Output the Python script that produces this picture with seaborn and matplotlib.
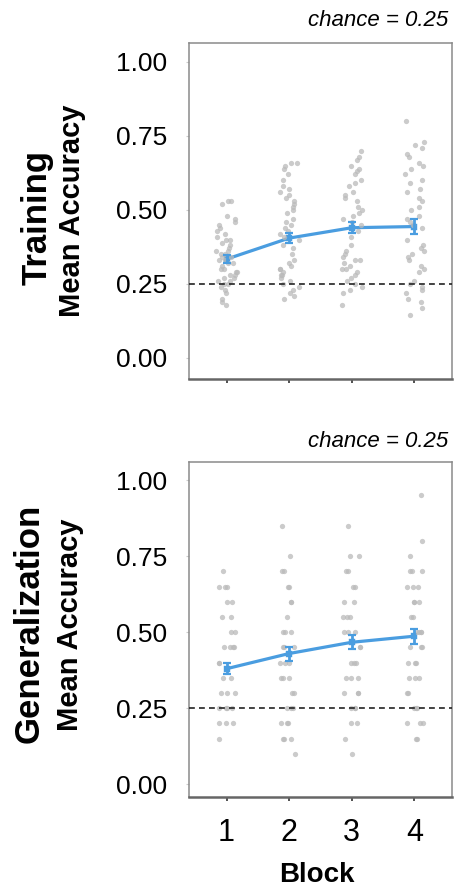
import numpy as np
import pandas as pd
import matplotlib
matplotlib.use("Agg")
import matplotlib.pyplot as plt
import seaborn as sns

# blocs et valeurs
blocks = ["1", "2", "3", "4"]

train_b1 = [0.53, 0.53, 0.52, 0.48, 0.47, 0.46, 0.45, 0.44, 0.43, 0.42, 0.41, 0.40, 0.40, 0.39,
            0.38, 0.37, 0.36, 0.36, 0.35, 0.35, 0.34, 0.34, 0.33, 0.33, 0.32, 0.32, 0.31, 0.30,
            0.30, 0.29, 0.29, 0.28, 0.28, 0.27, 0.27, 0.26, 0.26, 0.25, 0.25, 0.24, 0.23, 0.22,
            0.20, 0.19, 0.18]
train_b2 = [0.66, 0.66, 0.65, 0.64, 0.62, 0.60, 0.58, 0.57, 0.56, 0.55, 0.54, 0.53, 0.52, 0.51,
            0.50, 0.49, 0.47, 0.46, 0.45, 0.44, 0.43, 0.42, 0.41, 0.40, 0.38, 0.37, 0.35, 0.33,
            0.32, 0.31, 0.30, 0.30, 0.29, 0.28, 0.28, 0.27, 0.26, 0.25, 0.24, 0.23, 0.22, 0.21,
            0.20]
train_b3 = [0.70, 0.68, 0.67, 0.65, 0.64, 0.63, 0.62, 0.60, 0.59, 0.58, 0.56, 0.55, 0.54, 0.53,
            0.51, 0.50, 0.49, 0.48, 0.47, 0.46, 0.45, 0.43, 0.41, 0.38, 0.36, 0.35, 0.34, 0.33,
            0.33, 0.32, 0.31, 0.30, 0.30, 0.29, 0.28, 0.27, 0.26, 0.25, 0.24, 0.23, 0.22, 0.18]
train_b4 = [0.80, 0.73, 0.72, 0.71, 0.69, 0.68, 0.66, 0.65, 0.64, 0.62, 0.60, 0.59, 0.57, 0.56,
            0.54, 0.53, 0.51, 0.50, 0.48, 0.47, 0.46, 0.45, 0.44, 0.40, 0.38, 0.37, 0.36, 0.35,
            0.34, 0.33, 0.31, 0.30, 0.29, 0.26, 0.25, 0.24, 0.23, 0.22, 0.20, 0.19, 0.17, 0.145]

gen_b1 = [0.70, 0.65, 0.65, 0.65, 0.60, 0.60, 0.55, 0.55, 0.50, 0.50, 0.45, 0.45, 0.45, 0.45,
          0.40, 0.40, 0.35, 0.35, 0.30, 0.30, 0.30, 0.25, 0.25, 0.25, 0.25, 0.20, 0.20, 0.20,
          0.15]
gen_b2 = [0.85, 0.75, 0.70, 0.70, 0.65, 0.65, 0.60, 0.60, 0.55, 0.50, 0.50, 0.50, 0.45, 0.45,
          0.45, 0.40, 0.40, 0.40, 0.35, 0.35, 0.35, 0.30, 0.30, 0.25, 0.25, 0.25, 0.20, 0.20,
          0.20, 0.15, 0.15, 0.15, 0.10]
gen_b3 = [0.85, 0.75, 0.75, 0.70, 0.70, 0.65, 0.65, 0.60, 0.60, 0.55, 0.55, 0.55, 0.50, 0.50,
          0.50, 0.45, 0.45, 0.40, 0.40, 0.40, 0.35, 0.35, 0.35, 0.30, 0.30, 0.30, 0.25, 0.25,
          0.25, 0.20, 0.20, 0.15, 0.10]
gen_b4 = [0.95, 0.80, 0.75, 0.70, 0.70, 0.70, 0.65, 0.65, 0.65, 0.60, 0.60, 0.60, 0.55, 0.55,
          0.50, 0.50, 0.50, 0.50, 0.45, 0.45, 0.45, 0.40, 0.40, 0.40, 0.35, 0.35, 0.35, 0.30,
          0.30, 0.25, 0.25, 0.25, 0.20, 0.20, 0.20, 0.15, 0.15]

train_mean = [0.334, 0.405, 0.440, 0.444]
train_se = [0.014, 0.018, 0.019, 0.024]
gen_mean = [0.380, 0.430, 0.467, 0.487]
gen_se = [0.019, 0.023, 0.023, 0.025]

chance = 0.25

sns.set_style("white")
plt.rcParams["font.family"] = ["Liberation Sans", "DejaVu Sans"]
plt.rcParams["text.color"] = "black"
plt.rcParams["xtick.color"] = "black"
plt.rcParams["ytick.color"] = "black"

blue = "#4a9de0"
grey_pts = "#bababa"


def long_df(cols):
    rows = []
    for b, vals in zip(blocks, cols):
        for v in vals:
            rows.append((b, v))
    return pd.DataFrame(rows, columns=["block", "acc"])


np.random.seed(3)  # jitter reproductible
fig = plt.figure(figsize=(4.54, 8.89), dpi=100)
ax1 = fig.add_axes([0.4163, 0.5737, 0.5793, 0.3779])
ax2 = fig.add_axes([0.4163, 0.1035, 0.5793, 0.3768])

panels = [
    (ax1, [train_b1, train_b2, train_b3, train_b4], train_mean, train_se, (-0.071, 1.064), 0.17),
    (ax2, [gen_b1, gen_b2, gen_b3, gen_b4], gen_mean, gen_se, (-0.042, 1.06), 0.14),
]

for ax, cols, means, se, ylim, jit in panels:
    df = long_df(cols)
    sns.stripplot(data=df, x="block", y="acc", order=blocks, color=grey_pts,
                  size=3.8, jitter=jit, alpha=0.75, linewidth=0, ax=ax)
    ax.axhline(chance, color="#222222", lw=1.2, ls=(0, (3.5, 2.5)), zorder=3)
    sns.pointplot(x=blocks, y=means, order=blocks, color=blue, markers="s",
                  markersize=3, linewidth=2.3, errorbar=None, ax=ax)
    ax.errorbar(np.arange(len(blocks)), means, yerr=se, fmt="none", ecolor=blue,
                elinewidth=2, capsize=3, capthick=1.6, zorder=5)
    ax.set_xlim(-0.6, 3.6)
    ax.set_ylim(*ylim)
    ax.set_yticks([0, 0.25, 0.5, 0.75, 1.0])
    ax.set_yticklabels(["0.00", "0.25", "0.50", "0.75", "1.00"], fontsize=19)
    ax.set_xlabel("")
    ax.set_ylabel("")
    for s in ax.spines.values():
        s.set_visible(True)
        s.set_color("#8a8a8a")
        s.set_linewidth(1.1)
    ax.spines["bottom"].set_color("#666666")
    ax.spines["bottom"].set_linewidth(1.8)
    ax.tick_params(axis="y", left=True, length=2, width=0.8, color="#cccccc", pad=14)
    ax.tick_params(axis="x", bottom=True, length=3, width=1.2, color="#333333", direction="out")

ax1.set_xticklabels([])
ax2.set_xticklabels(blocks, fontsize=22)
ax2.tick_params(axis="x", pad=12)

# étiquettes et annotations
fig.text(0.0815, 0.7548, "Training", rotation=90, ha="center", va="center",
         fontsize=25, fontweight="bold")
fig.text(0.159, 0.7627, "Mean Accuracy", rotation=90, ha="center", va="center",
         fontsize=21, fontweight="bold")
fig.text(0.064, 0.299, "Generalization", rotation=90, ha="center", va="center",
         fontsize=25, fontweight="bold")
fig.text(0.154, 0.297, "Mean Accuracy", rotation=90, ha="center", va="center",
         fontsize=21, fontweight="bold")

fig.text(0.987, 0.9775, f"chance = {chance:.2f}", ha="right", va="center",
         fontsize=16, style="italic")
fig.text(0.987, 0.503, f"chance = {chance:.2f}", ha="right", va="center",
         fontsize=16, style="italic")

fig.text(0.698, 0.0157, "Block", ha="center", va="center", fontsize=20, fontweight="bold")

fig.savefig("out.png", dpi=100)
